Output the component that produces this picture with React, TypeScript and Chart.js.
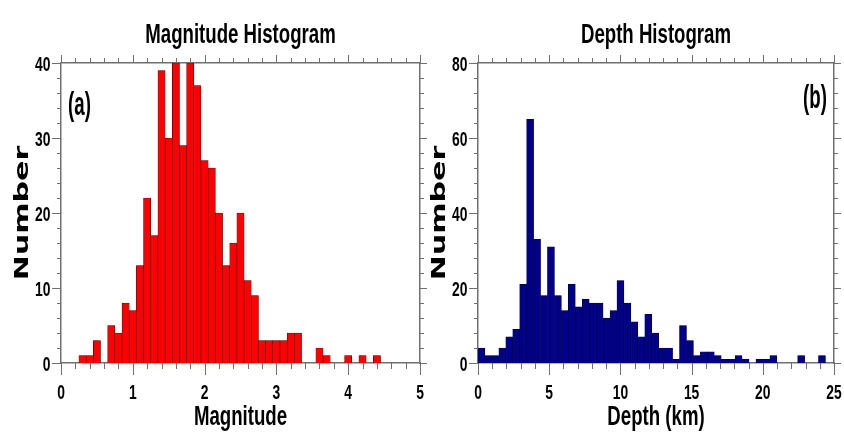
import React, { useEffect, useRef } from 'react';
import { Chart, registerables } from 'chart.js';

Chart.register(...registerables);

// ---------- data ----------
const magnitudeBins = [
  0.3, 0.4, 0.5, 0.6, 0.7, 0.8, 0.9, 1.0, 1.1, 1.2,
  1.3, 1.4, 1.5, 1.6, 1.7, 1.8, 1.9, 2.0, 2.1, 2.2,
  2.3, 2.4, 2.5, 2.6, 2.7, 2.8, 2.9, 3.0, 3.1, 3.2,
  3.3, 3.4, 3.5, 3.6, 3.7, 3.8, 3.9, 4.0, 4.1, 4.2,
  4.3, 4.4,
];
const magnitudeCounts = [
  1, 1, 3, 0, 5, 4, 8, 7, 13, 22,
  17, 39, 30, 40, 29, 40, 37, 27, 26, 20,
  13, 16, 20, 11, 9, 3, 3, 3, 3, 4,
  4, 0, 0, 2, 1, 0, 0, 1, 0, 1,
  0, 1,
];

const depthBins = [
  0.244, 0.732, 1.22, 1.708, 2.196, 2.684, 3.172, 3.66, 4.148, 4.636,
  5.124, 5.612, 6.1, 6.588, 7.076, 7.564, 8.052, 8.54, 9.028, 9.516,
  10.004, 10.492, 10.98, 11.468, 11.956, 12.444, 12.932, 13.42, 13.908, 14.396,
  14.884, 15.372, 15.86, 16.348, 16.836, 17.324, 17.812, 18.3, 18.788, 19.276,
  19.764, 20.252, 20.74, 21.228, 21.716, 22.204, 22.692, 23.18, 23.668, 24.156,
];
const depthCounts = [
  4, 2, 2, 4, 7, 9, 21, 65, 33, 18,
  31, 18, 14, 21, 15, 17, 16, 16, 12, 14,
  22, 16, 11, 7, 13, 8, 4, 4, 1, 10,
  6, 2, 3, 3, 2, 1, 1, 2, 1, 0,
  1, 1, 2, 0, 0, 0, 2, 0, 0, 2,
];

// ---------- styling ----------
const SANS = "'Liberation Sans', Arial, sans-serif";
const HEAVY = "'DejaVu Sans', 'Liberation Sans', sans-serif";
const AXIS_GRAY = '#707070';

const near = (v: number, m: number) => {
  const r = v / m;
  return Math.abs(r - Math.round(r)) < 1e-6;
};

type TextOpts = {
  size: number;
  family?: string;
  sx?: number;
  align?: CanvasTextAlign;
  rotate?: number;
};

function drawText(ctx: CanvasRenderingContext2D, text: string, x: number, y: number, o: TextOpts) {
  ctx.save();
  ctx.translate(x, y);
  if (o.rotate) ctx.rotate(o.rotate);
  ctx.scale(o.sx ?? 1, 1);
  ctx.font = `bold ${o.size}px ${o.family ?? SANS}`;
  ctx.fillStyle = '#000';
  ctx.textAlign = o.align ?? 'center';
  ctx.textBaseline = 'alphabetic';
  ctx.fillText(text, 0, 0);
  ctx.restore();
}

const edgeTicks = {
  id: 'edgeTicks',
  afterDraw(chart: any, _args: any, opts: any) {
    const { ctx, chartArea: a, scales } = chart;
    const xs = scales.x;
    const ys = scales.y;
    ctx.save();
    ctx.strokeStyle = AXIS_GRAY;
    ctx.lineWidth = 1;
    ctx.beginPath();
    for (const t of xs.ticks) {
      const px = Math.round(xs.getPixelForValue(t.value)) + 0.5;
      const major = near(t.value, opts.xMajor);
      ctx.moveTo(px, a.bottom);
      ctx.lineTo(px, a.bottom + (major ? 12 : 6));
      ctx.moveTo(px, a.top);
      ctx.lineTo(px, a.top - (major ? 8 : 5));
    }
    for (const t of ys.ticks) {
      const py = Math.round(ys.getPixelForValue(t.value)) + 0.5;
      const major = near(t.value, opts.yMajor);
      ctx.moveTo(a.left, py);
      ctx.lineTo(a.left - (major ? 9 : 4), py);
      ctx.moveTo(a.right, py);
      ctx.lineTo(a.right + (major ? 7 : 4), py);
    }
    ctx.stroke();
    ctx.restore();
  },
};

// draws the condensed texts (title, tick labels, axis titles, panel tag) from the chart's scales
const panelText = {
  id: 'panelText',
  afterDraw(chart: any, _args: any, opts: any) {
    const { ctx, chartArea: a, scales } = chart;
    const xs = scales.x;
    const ys = scales.y;
    const cx = (a.left + a.right) / 2;
    const cy = (a.top + a.bottom) / 2;
    // title
    drawText(ctx, opts.title, cx, 43, { size: 27, sx: 0.69 });
    // x tick labels
    for (const t of xs.ticks) {
      if (!near(t.value, opts.xMajor)) continue;
      drawText(ctx, String(Math.round(t.value)), xs.getPixelForValue(t.value), a.bottom + 36, { size: 21, sx: 0.66 });
    }
    // y tick labels
    for (const t of ys.ticks) {
      if (!near(t.value, opts.yMajor)) continue;
      drawText(ctx, String(Math.round(t.value)), a.left - 10.5, ys.getPixelForValue(t.value) + 7.5, {
        size: 21,
        sx: 0.66,
        align: 'right',
      });
    }
    // x axis title
    drawText(ctx, opts.xTitle, cx, a.bottom + 62, { size: 27, sx: 0.69 });
    // y axis title
    drawText(ctx, 'Number', opts.yTitleX, cy, { size: 20, family: HEAVY, sx: 1.5, rotate: -Math.PI / 2 });
    // panel tag
    if (opts.tagAlign === 'left') {
      drawText(ctx, opts.tag, a.left + 7, a.top + opts.tagDy, { size: 34, sx: 0.55, align: 'left' });
    } else {
      drawText(ctx, opts.tag, a.right - 7, a.top + opts.tagDy, { size: 34, sx: 0.55, align: 'right' });
    }
  },
};

type Panel = {
  bins: number[];
  counts: number[];
  color: string;
  edge: string;
  xMax: number;
  xStep: number;
  xMajor: number;
  yMax: number;
  yStep: number;
  yMajor: number;
  title: string;
  xTitle: string;
  tag: string;
  tagAlign: 'left' | 'right';
  tagDy: number;
  yWidth: number;
  y2Width: number;
  yTitleX: number;
};

function makeConfig(p: Panel): any {
  const border = { display: true, color: AXIS_GRAY, width: 1.5 };
  const noGrid = { display: false, drawTicks: false };
  const hidden = { display: false };
  return {
    type: 'bar',
    data: {
      datasets: [
        {
          data: p.bins.map((x, i) => ({ x, y: p.counts[i] })),
          backgroundColor: p.color,
          borderColor: p.edge,
          borderWidth: 0.6,
          borderSkipped: 'start',
          barPercentage: 1,
          categoryPercentage: 1,
        },
      ],
    },
    options: {
      responsive: false,
      animation: false,
      devicePixelRatio: 1,
      layout: { padding: 0 },
      plugins: {
        legend: { display: false },
        tooltip: { enabled: false },
        title: { display: false },
        edgeTicks: { xMajor: p.xMajor, yMajor: p.yMajor },
        panelText: {
          title: p.title,
          xTitle: p.xTitle,
          xMajor: p.xMajor,
          yMajor: p.yMajor,
          tag: p.tag,
          tagAlign: p.tagAlign,
          tagDy: p.tagDy,
          yTitleX: p.yTitleX,
        },
      },
      scales: {
        x: {
          type: 'linear',
          position: 'bottom',
          min: 0,
          max: p.xMax,
          offset: false,
          grid: noGrid,
          border,
          ticks: { display: false, stepSize: p.xStep, maxTicksLimit: 100, autoSkip: false },
          afterFit: (s: any) => {
            s.height = 74;
          },
        },
        x2: {
          type: 'linear',
          position: 'top',
          min: 0,
          max: p.xMax,
          offset: false,
          grid: noGrid,
          border,
          ticks: hidden,
          afterFit: (s: any) => {
            s.height = 63;
          },
        },
        y: {
          type: 'linear',
          position: 'left',
          min: 0,
          max: p.yMax,
          grid: noGrid,
          border,
          ticks: { display: false, stepSize: p.yStep, maxTicksLimit: 100, autoSkip: false },
          afterFit: (s: any) => {
            s.width = p.yWidth;
          },
        },
        y2: {
          type: 'linear',
          position: 'right',
          min: 0,
          max: p.yMax,
          grid: noGrid,
          border,
          ticks: hidden,
          afterFit: (s: any) => {
            s.width = p.y2Width;
          },
        },
      },
    },
    plugins: [edgeTicks, panelText],
  };
}

const magnitudePanel: Panel = {
  bins: magnitudeBins,
  counts: magnitudeCounts,
  color: '#ff0000',
  edge: '#2a0000',
  xMax: 5,
  xStep: 0.2,
  xMajor: 1,
  yMax: 40,
  yStep: 2,
  yMajor: 10,
  title: 'Magnitude Histogram',
  xTitle: 'Magnitude',
  tag: '(a)',
  tagAlign: 'left',
  tagDy: 52,
  yWidth: 61,
  y2Width: 12,
  yTitleX: 27.5,
};

const depthPanel: Panel = {
  bins: depthBins,
  counts: depthCounts,
  color: '#000088',
  edge: '#000022',
  xMax: 25,
  xStep: 1,
  xMajor: 5,
  yMax: 80,
  yStep: 4,
  yMajor: 20,
  title: 'Depth Histogram',
  xTitle: 'Depth (km)',
  tag: '(b)',
  tagAlign: 'right',
  tagDy: 45,
  yWidth: 56,
  y2Width: 10,
  yTitleX: 23,
};

export default function App() {
  const leftRef = useRef<HTMLCanvasElement | null>(null);
  const rightRef = useRef<HTMLCanvasElement | null>(null);

  useEffect(() => {
    const charts: Chart[] = [];
    if (leftRef.current) charts.push(new Chart(leftRef.current, makeConfig(magnitudePanel)));
    if (rightRef.current) charts.push(new Chart(rightRef.current, makeConfig(depthPanel)));
    return () => {
      charts.forEach((c) => c.destroy());
    };
  }, []);

  return (
    <div style={{ position: 'absolute', left: 0, top: 0, width: 844, height: 437, background: '#fff', overflow: 'hidden' }}>
      <canvas ref={leftRef} width={432} height={437} style={{ position: 'absolute', left: 0, top: 0 }} />
      <canvas ref={rightRef} width={422} height={437} style={{ position: 'absolute', left: 422, top: 0 }} />
    </div>
  );
}
